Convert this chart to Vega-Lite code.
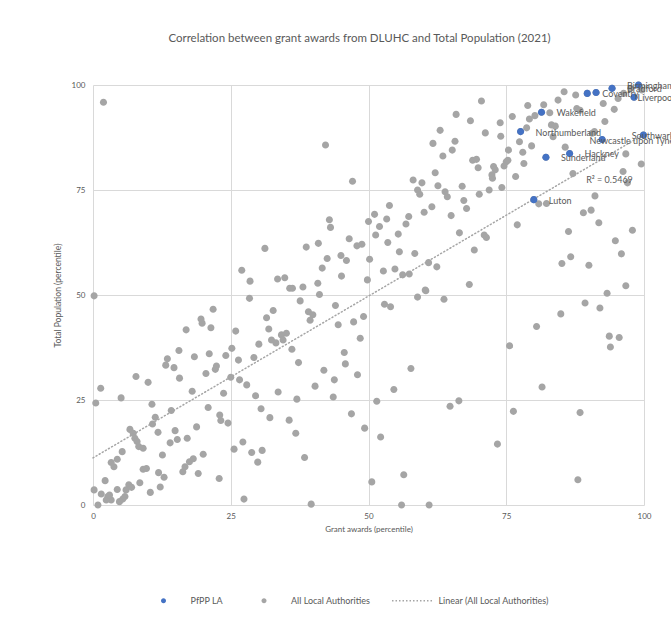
{
  "$schema": "https://vega.github.io/schema/vega-lite/v6.json",
  "autosize": "none",
  "width": 551,
  "height": 420,
  "padding": {"left": 93, "top": 85, "right": 27, "bottom": 115},
  "background": "white",
  "config": {"view": {"stroke": null}, "font": "Lato"},
  "title": {"text": "Correlation between grant awards from DLUHC and Total Population (2021)", "anchor": "middle", "frame": "group", "fontSize": 11.5, "fontWeight": "normal", "color": "#595959", "font": "Lato", "offset": 37, "dx": -9},
  "datasets": {
    "las": [
      {"x":1.9,"y":95.9},{"x":42.2,"y":85.7},{"x":47.1,"y":77.1},{"x":53.8,"y":71.3},{"x":51.1,"y":69.2},{"x":53.3,"y":68.1},{"x":50.0,"y":67.5},{"x":52.0,"y":66.3},{"x":42.9,"y":67.9},{"x":43.1,"y":66.1},{"x":51.3,"y":64.3},{"x":53.5,"y":62.5},{"x":46.5,"y":63.4},{"x":47.9,"y":61.7},{"x":48.8,"y":62.1},{"x":31.2,"y":61.1},{"x":38.7,"y":61.4},{"x":40.9,"y":62.3},{"x":42.5,"y":58.7},{"x":45.0,"y":59.4},{"x":46.0,"y":58.2},{"x":50.2,"y":58.5},{"x":41.6,"y":56.4},{"x":52.7,"y":55.7},{"x":45.1,"y":54.5},{"x":49.8,"y":53.6},{"x":27.0,"y":55.9},{"x":28.5,"y":53.3},{"x":33.5,"y":53.8},{"x":34.8,"y":54.1},{"x":35.7,"y":51.6},{"x":36.2,"y":51.6},{"x":38.1,"y":51.9},{"x":40.8,"y":52.8},
      {"x":70.5,"y":96.2},{"x":65.9,"y":93.0},{"x":68.5,"y":91.5},{"x":73.9,"y":91.0},{"x":63.0,"y":89.2},{"x":71.2,"y":88.6},{"x":74.0,"y":87.8},{"x":61.7,"y":86.1},{"x":65.7,"y":86.6},{"x":65.2,"y":84.5},{"x":63.5,"y":83.1},{"x":68.9,"y":82.1},{"x":69.6,"y":82.3},{"x":69.9,"y":80.3},{"x":72.7,"y":80.6},{"x":73.0,"y":79.8},{"x":75.0,"y":81.7},{"x":75.3,"y":82.1},{"x":74.6,"y":80.7},{"x":72.4,"y":78.6},{"x":72.5,"y":77.8},{"x":62.1,"y":79.1},{"x":58.1,"y":77.4},{"x":59.7,"y":76.7},{"x":62.6,"y":76.0},{"x":67.0,"y":75.9},{"x":58.9,"y":75.0},{"x":59.3,"y":74.0},{"x":63.9,"y":74.6},{"x":64.3,"y":73.4},{"x":70.1,"y":74.0},{"x":71.9,"y":75.0},{"x":74.2,"y":75.6},{"x":67.3,"y":72.5},{"x":67.8,"y":70.6},{"x":61.5,"y":71.0},{"x":60.1,"y":69.7},{"x":65.0,"y":68.9},{"x":57.3,"y":68.7},{"x":56.8,"y":66.9},{"x":55.4,"y":64.5},{"x":66.5,"y":64.8},{"x":71.0,"y":64.3},{"x":71.4,"y":63.7},{"x":69.2,"y":60.7},{"x":55.6,"y":60.3},{"x":58.4,"y":59.9},{"x":60.9,"y":57.7},{"x":62.4,"y":56.7},{"x":54.8,"y":56.2},{"x":56.2,"y":54.8},{"x":57.4,"y":55.0},{"x":68.3,"y":52.5},{"x":60.3,"y":51.2},
      {"x":76.1,"y":92.5},{"x":78.9,"y":95.1},{"x":81.8,"y":95.3},{"x":84.4,"y":96.4},{"x":85.5,"y":98.4},{"x":87.6,"y":97.6},{"x":82.9,"y":93.4},{"x":80.2,"y":92.7},{"x":79.2,"y":91.9},{"x":78.7,"y":89.8},{"x":87.8,"y":94.4},{"x":88.4,"y":94.0},{"x":92.6,"y":95.6},{"x":94.6,"y":94.2},{"x":95.3,"y":96.8},{"x":96.3,"y":98.0},{"x":97.6,"y":99.2},{"x":99.6,"y":98.8},{"x":92.9,"y":91.3},{"x":83.2,"y":90.5},{"x":83.9,"y":90.2},{"x":83.5,"y":87.7},{"x":90.6,"y":88.5},{"x":91.0,"y":88.9},{"x":77.4,"y":86.5},{"x":79.6,"y":85.5},{"x":78.0,"y":84.0},{"x":75.4,"y":84.5},{"x":85.7,"y":85.2},{"x":78.2,"y":81.3},{"x":76.7,"y":78.2},{"x":87.1,"y":78.9},{"x":96.7,"y":83.6},{"x":99.5,"y":81.2},{"x":96.2,"y":79.4},{"x":97.0,"y":76.7},{"x":91.1,"y":73.6},{"x":80.9,"y":71.7},{"x":82.3,"y":71.8},{"x":89.0,"y":69.6},{"x":90.4,"y":70.2},{"x":91.8,"y":67.2},{"x":97.9,"y":65.4},{"x":77.0,"y":66.7},{"x":86.3,"y":65.1},{"x":94.8,"y":62.9},{"x":95.9,"y":59.8},{"x":85.1,"y":57.5},{"x":86.7,"y":59.1},{"x":90.0,"y":57.1},{"x":96.7,"y":52.2},
      {"x":52.9,"y":47.8},{"x":54.0,"y":47.2},{"x":58.9,"y":49.5},{"x":60.4,"y":51.0},{"x":63.7,"y":49.0},{"x":93.3,"y":50.4},{"x":89.3,"y":48.1},{"x":92.0,"y":46.9},{"x":84.9,"y":45.5},{"x":80.5,"y":42.5},{"x":75.6,"y":37.9},{"x":93.7,"y":40.2},{"x":95.5,"y":39.9},{"x":93.9,"y":37.6},{"x":57.7,"y":32.5},{"x":54.6,"y":27.5},{"x":81.5,"y":28.1},{"x":64.8,"y":23.5},{"x":66.4,"y":24.8},{"x":76.3,"y":22.3},{"x":88.4,"y":22.0},{"x":73.4,"y":14.5},{"x":56.4,"y":7.2},{"x":88.0,"y":6.0},{"x":56.0,"y":0.0},{"x":61.0,"y":0.0},
      {"x":0.2,"y":49.8},{"x":28.4,"y":49.2},{"x":41.1,"y":50.1},{"x":37.6,"y":48.6},{"x":44.0,"y":47.5},{"x":39.1,"y":46.0},{"x":39.9,"y":45.3},{"x":39.4,"y":44.0},{"x":32.7,"y":46.3},{"x":31.5,"y":44.6},{"x":31.9,"y":41.9},{"x":21.8,"y":46.6},{"x":19.6,"y":44.3},{"x":19.8,"y":43.3},{"x":21.4,"y":42.2},{"x":16.9,"y":41.7},{"x":25.9,"y":41.4},{"x":44.5,"y":42.9},{"x":47.3,"y":43.6},{"x":49.1,"y":44.9},{"x":48.5,"y":39.7},{"x":45.6,"y":36.3},{"x":45.8,"y":33.6},{"x":41.9,"y":32.1},{"x":43.8,"y":29.8},{"x":48.0,"y":31.0},{"x":43.6,"y":25.7},{"x":40.3,"y":28.3},{"x":37.3,"y":33.9},{"x":36.1,"y":37.1},{"x":32.4,"y":39.3},{"x":33.2,"y":38.6},{"x":34.2,"y":40.5},{"x":35.1,"y":40.9},{"x":34.5,"y":39.3},{"x":30.1,"y":38.3},{"x":29.2,"y":35.1},{"x":26.4,"y":34.5},{"x":25.2,"y":37.3},{"x":24.1,"y":35.6},{"x":21.1,"y":36.0},{"x":18.4,"y":35.3},{"x":13.5,"y":34.8},{"x":13.2,"y":33.3},{"x":14.7,"y":32.7},{"x":15.6,"y":36.8},{"x":15.7,"y":30.2},{"x":20.5,"y":31.3},{"x":22.2,"y":32.3},{"x":22.4,"y":33.1},{"x":18.0,"y":27.1},{"x":25.0,"y":30.4},{"x":26.6,"y":29.8},{"x":27.9,"y":28.6},{"x":29.5,"y":26.0},{"x":23.7,"y":26.6},{"x":33.6,"y":26.9},{"x":37.0,"y":25.2},{"x":30.5,"y":22.9},{"x":32.1,"y":20.8},{"x":35.6,"y":20.2},{"x":36.8,"y":17.1},{"x":38.4,"y":11.3},{"x":20.9,"y":23.2},{"x":23.0,"y":21.4},{"x":23.2,"y":20.1},{"x":24.5,"y":19.5},{"x":18.8,"y":18.6},{"x":14.9,"y":17.7},{"x":15.3,"y":15.6},{"x":17.1,"y":15.9},{"x":14.0,"y":14.8},{"x":14.2,"y":22.5},{"x":10.7,"y":24.0},{"x":10.0,"y":29.2},{"x":7.8,"y":30.6},{"x":5.1,"y":25.5},{"x":1.4,"y":27.8},{"x":0.5,"y":24.3},{"x":11.3,"y":20.9},{"x":10.8,"y":19.3},{"x":11.8,"y":17.3},{"x":6.7,"y":18.0},{"x":7.3,"y":17.1},{"x":7.6,"y":15.9},{"x":8.0,"y":15.1},{"x":8.3,"y":13.9},{"x":9.1,"y":13.5},{"x":25.6,"y":13.3},{"x":27.2,"y":15.0},{"x":28.8,"y":12.5},{"x":29.9,"y":10.2},{"x":30.7,"y":13.0},{"x":20.0,"y":12.1},{"x":16.3,"y":7.9},{"x":16.7,"y":9.1},{"x":17.5,"y":10.3},{"x":18.2,"y":11.0},{"x":19.1,"y":7.5},{"x":22.9,"y":6.3},{"x":12.6,"y":11.9},{"x":11.9,"y":7.7},{"x":12.9,"y":6.6},{"x":9.1,"y":8.5},{"x":9.7,"y":8.7},{"x":8.5,"y":5.3},{"x":10.4,"y":3.0},{"x":12.2,"y":4.3},{"x":27.4,"y":1.4},{"x":39.6,"y":0.2},{"x":50.6,"y":5.5},{"x":52.2,"y":16.2},{"x":49.3,"y":18.3},{"x":46.9,"y":21.7},{"x":51.5,"y":24.7},{"x":5.3,"y":12.7},{"x":4.4,"y":10.9},{"x":3.3,"y":10.1},{"x":3.8,"y":9.1},{"x":2.2,"y":5.8},{"x":0.2,"y":3.6},{"x":1.5,"y":2.6},{"x":2.7,"y":2.0},{"x":3.3,"y":1.2},{"x":2.4,"y":1.2},{"x":3.0,"y":2.4},{"x":4.4,"y":3.7},{"x":6.0,"y":3.6},{"x":6.5,"y":4.8},{"x":7.0,"y":4.2},{"x":5.8,"y":2.0},{"x":5.4,"y":1.4},{"x":4.8,"y":0.8},{"x":0.9,"y":0.0},
      {"x":99.0,"y":100.0,"g":"P","n":"Birmingham"},
      {"x":94.2,"y":99.2,"g":"P","n":"Bradford"},
      {"x":89.7,"y":98.0,"g":"P","n":"Coventry"},
      {"x":91.3,"y":98.2,"g":"P"},
      {"x":98.2,"y":97.1,"g":"P","n":"Liverpool"},
      {"x":81.4,"y":93.5,"g":"P","n":"Wakefield"},
      {"x":77.6,"y":88.9,"g":"P","n":"Northumberland"},
      {"x":92.4,"y":87.0,"g":"P","n":"Newcastle upon Tyne"},
      {"x":99.9,"y":88.1,"g":"P","n":"Southwark"},
      {"x":86.5,"y":83.7,"g":"P","n":"Hackney"},
      {"x":82.2,"y":82.8,"g":"P","n":"Sunderland"},
      {"x":80.0,"y":72.7,"g":"P","n":"Luton"}
    ],
    "note": [{"x": 89.5, "y": 77.4, "t": "R² = 0.5469"}]
  },
  "layer": [
    {
      "data": {"name": "las"},
      "mark": {"type": "point", "filled": true, "opacity": 1, "size": 50},
      "encoding": {
        "x": {"field": "x", "type": "quantitative", "scale": {"domain": [0, 100], "nice": false, "zero": false},
          "axis": {"values": [0, 25, 50, 75, 100], "title": "Grant awards (percentile)", "grid": true, "gridColor": "#D9D9D9", "domain": false, "ticks": false, "labelFlush": false, "labelPadding": 7, "titlePadding": 5, "labelFontSize": 8, "titleFontSize": 8, "labelColor": "#595959", "titleColor": "#595959", "titleFontWeight": "normal", "labelFont": "Lato", "titleFont": "Lato"}},
        "y": {"field": "y", "type": "quantitative", "scale": {"domain": [0, 100], "nice": false, "zero": false},
          "axis": {"values": [0, 25, 50, 75, 100], "title": "Total Population (percentile)", "grid": true, "gridColor": "#D9D9D9", "domain": false, "ticks": false, "labelFlush": false, "labelPadding": 8, "titlePadding": 9, "labelFontSize": 8, "titleFontSize": 8.5, "labelColor": "#595959", "titleColor": "#595959", "titleFontWeight": "normal", "labelFont": "Lato", "titleFont": "Lato"}},
        "color": {"datum": "All Local Authorities", "type": "nominal",
          "scale": {"domain": ["PfPP LA", "All Local Authorities", "Linear (All Local Authorities)"], "range": ["#4472C4", "#A5A5A5", "#A5A5A5"]},
          "legend": {"title": null, "orient": "none", "legendX": 66, "legendY": 511, "direction": "horizontal", "columns": 3, "columnPadding": 21.5, "symbolSize": 25, "symbolStrokeWidth": 0, "labelOffset": 22.5, "labelFontSize": 9, "labelColor": "#595959", "labelFont": "Lato", "padding": 0}},
        "shape": {"datum": "All Local Authorities", "type": "nominal",
          "scale": {"domain": ["PfPP LA", "All Local Authorities", "Linear (All Local Authorities)"], "range": ["M-7.8,0M1,0A1,1,0,1,1,-1,0A1,1,0,1,1,1,0Z", "M-7.8,0M1,0A1,1,0,1,1,-1,0A1,1,0,1,1,1,0Z", "M-7.8,-0.3h0.6v0.6h-0.6zM-6.4,-0.3h0.6v0.6h-0.6zM-5,-0.3h0.6v0.6h-0.6zM-3.6,-0.3h0.6v0.6h-0.6zM-2.2,-0.3h0.6v0.6h-0.6zM-0.8,-0.3h0.6v0.6h-0.6zM0.6,-0.3h0.6v0.6h-0.6zM2,-0.3h0.6v0.6h-0.6zM3.4,-0.3h0.6v0.6h-0.6zM4.8,-0.3h0.6v0.6h-0.6zM6.2,-0.3h0.6v0.6h-0.6zM7.6,-0.3h0.6v0.6h-0.6z"]},
          "legend": {"title": null, "orient": "none", "legendX": 66, "legendY": 511, "direction": "horizontal", "columns": 3, "columnPadding": 21.5, "symbolSize": 25, "symbolStrokeWidth": 0, "labelOffset": 22.5, "labelFontSize": 9, "labelColor": "#595959", "labelFont": "Lato", "padding": 0}}
      }
    },
    {
      "data": {"name": "las"},
      "transform": [{"regression": "y", "on": "x", "method": "linear", "extent": [0, 100]}],
      "mark": {"type": "line", "color": "#A5A5A5", "strokeWidth": 1.5, "strokeDash": [1, 2.6], "strokeCap": "round"},
      "encoding": {"x": {"field": "x", "type": "quantitative"}, "y": {"field": "y", "type": "quantitative"}}
    },
    {
      "data": {"name": "las"},
      "transform": [{"filter": "datum.g === 'P'"}],
      "mark": {"type": "point", "filled": true, "opacity": 1, "size": 50},
      "encoding": {"x": {"field": "x", "type": "quantitative"}, "y": {"field": "y", "type": "quantitative"}, "color": {"datum": "PfPP LA", "type": "nominal"}, "shape": {"datum": "PfPP LA", "type": "nominal"}}
    },
    {
      "data": {"name": "las"},
      "transform": [{"filter": "datum.n && indexof(['Birmingham','Southwark','Newcastle upon Tyne','Liverpool'], datum.n) < 0"}],
      "mark": {"type": "text", "align": "left", "baseline": "middle", "dx": 15, "dy": 1, "fontSize": 9, "font": "Lato", "color": "#595959"},
      "encoding": {"x": {"field": "x", "type": "quantitative"}, "y": {"field": "y", "type": "quantitative"}, "text": {"field": "n"}}
    },
    {
      "data": {"name": "las"},
      "transform": [{"filter": "indexof(['Birmingham','Southwark','Newcastle upon Tyne','Liverpool'], datum.n) >= 0"}],
      "mark": {"type": "text", "align": "right", "baseline": "middle", "dy": 1, "fontSize": 9, "font": "Lato", "color": "#595959"},
      "encoding": {"x": {"datum": 105.5, "type": "quantitative"}, "y": {"field": "y", "type": "quantitative"}, "text": {"field": "n"}}
    },
    {
      "data": {"name": "note"},
      "mark": {"type": "text", "align": "left", "baseline": "middle", "fontSize": 9, "font": "Lato", "color": "#595959"},
      "encoding": {"x": {"field": "x", "type": "quantitative"}, "y": {"field": "y", "type": "quantitative"}, "text": {"field": "t"}}
    }
  ]
}
